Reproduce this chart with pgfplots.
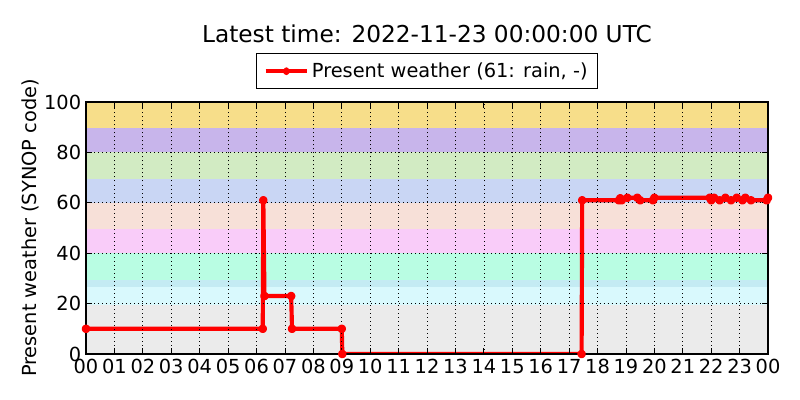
\documentclass[border=0pt]{standalone}
\usepackage{pgfplots}
\pgfplotsset{compat=1.18}
\usepackage{fontspec}
\setmainfont{DejaVu Sans}
\definecolor{bgray}{HTML}{EBEBEB}
\definecolor{bcyanA}{HTML}{D9F9FD}
\definecolor{bcyanB}{HTML}{C4EBF3}
\definecolor{bmint}{HTML}{B9FDE3}
\definecolor{bpink}{HTML}{F9CCF9}
\definecolor{bpeach}{HTML}{F7E0D8}
\definecolor{bblue}{HTML}{C9D6F4}
\definecolor{bgreen}{HTML}{D2EBC3}
\definecolor{bpurple}{HTML}{C8B5EB}
\definecolor{byellow}{HTML}{F7DE8A}
\begin{document}
\begin{tikzpicture}
\path[use as bounding box] (-62.15pt,-33.24pt) rectangle (516.01pt,255.84pt);
\begin{axis}[
  at={(0,0)}, anchor=south west,
  scale only axis, width=492.9pt, height=182.1pt,
  xmin=0, xmax=24, ymin=0, ymax=100,
  xtick={0,1,...,24},
  xticklabels={00,01,02,03,04,05,06,07,08,09,10,11,12,13,14,15,16,17,18,19,20,21,22,23,00},
  ytick={0,20,40,60,80,100},
  tick label style={font=\fontsize{14}{16}\selectfont},
  /pgf/number format/assume math mode=true,
  tick align=inside,
  major tick length=4pt,
  tick style={black, line width=0.6pt},
  axis line style={line width=1pt},
  axis on top,
  grid=major,
  major grid style={black, line width=0.5pt, dash pattern=on 0.7pt off 2.2pt},
  title={Latest time: 2022-11-23 00:00:00 UTC},
  title style={font=\fontsize{16.8}{20}\selectfont, at={(axis description cs:0.5,1)}, anchor=base, yshift=37.2pt},
  ylabel={Present weather (SYNOP code)},
  ylabel style={font=\fontsize{14}{16}\selectfont, at={(axis description cs:-0.0822,0.5)}, anchor=center},
  legend style={at={(axis description cs:0.5,1)}, anchor=south, yshift=9.4pt,
    font=\fontsize{14}{16}\selectfont, draw=black, line width=0.6pt,
    inner xsep=5pt, inner ysep=4.5pt},
  legend cell align=left,
  legend image code/.code={
    \draw[#1, mark=none] (0cm,0cm) -- (1.05cm,0cm);
    \draw[#1, only marks, mark size=1.3pt] plot coordinates {(0.525cm,0cm)};
  },
]
\addplot[fill=bgray, draw=none, forget plot] coordinates {(0,0) (24,0) (24,19.5) (0,19.5)};
\addplot[fill=bcyanA, draw=none, forget plot] coordinates {(0,19.5) (24,19.5) (24,26.7) (0,26.7)};
\addplot[fill=bcyanB, draw=none, forget plot] coordinates {(0,26.7) (24,26.7) (24,29.5) (0,29.5)};
\addplot[fill=bmint, draw=none, forget plot] coordinates {(0,29.5) (24,29.5) (24,39.9) (0,39.9)};
\addplot[fill=bpink, draw=none, forget plot] coordinates {(0,39.9) (24,39.9) (24,49.5) (0,49.5)};
\addplot[fill=bpeach, draw=none, forget plot] coordinates {(0,49.5) (24,49.5) (24,59.8) (0,59.8)};
\addplot[fill=bblue, draw=none, forget plot] coordinates {(0,59.8) (24,59.8) (24,69.5) (0,69.5)};
\addplot[fill=bgreen, draw=none, forget plot] coordinates {(0,69.5) (24,69.5) (24,80) (0,80)};
\addplot[fill=bpurple, draw=none, forget plot] coordinates {(0,80) (24,80) (24,89.8) (0,89.8)};
\addplot[fill=byellow, draw=none, forget plot] coordinates {(0,89.8) (24,89.8) (24,100) (0,100)};
\addplot[red, line width=3pt, mark=*, mark size=1.6pt, line join=round] coordinates {
 (0,10) (6.22,10) (6.24,61) (6.28,23) (7.22,23) (7.25,10) (9.0,10) (9.02,0)
 (17.44,0) (17.46,61) (18.75,61) (18.8,61.8) (18.85,61) (19.05,62) (19.4,62)
 (19.5,61) (19.95,61) (20.0,62) (21.95,62) (22.0,61) (22.1,62) (22.3,61)
 (22.5,62) (22.7,61) (22.9,62) (23.1,61) (23.2,62) (23.4,61) (23.95,61) (24,62)
};
\addlegendentry{Present weather (61: rain, -)}
\end{axis}
\end{tikzpicture}
\end{document}
